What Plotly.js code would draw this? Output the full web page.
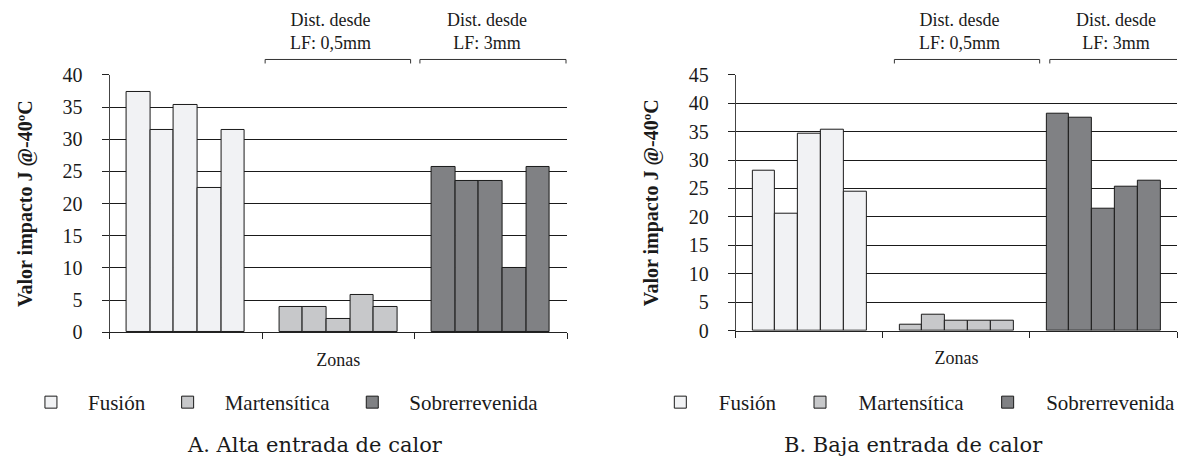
<!DOCTYPE html>
<html>
<head>
<meta charset="utf-8">
<script src="https://cdn.plot.ly/plotly-3.0.1.min.js"></script>
<style>html,body{margin:0;padding:0;background:#fff;}</style>
</head>
<body>
<div id="chart" style="width:1181px;height:460px"></div>
<script>
// ---- data ----
const zones = ['Fusión', 'Martensítica', 'Sobrerrevenida'];
const altaFusion = [37.4, 31.4, 35.3, 22.5, 31.4];
const altaMartensitica = [3.9, 3.9, 2.0, 5.8, 3.9];
const altaSobrerrevenida = [25.7, 23.5, 23.5, 10.0, 25.7];
const bajaFusion = [28.2, 20.6, 34.6, 35.3, 24.5];
const bajaMartensitica = [1.1, 2.9, 1.8, 1.8, 1.8];
const bajaSobrerrevenida = [38.2, 37.5, 21.4, 25.3, 26.4];
const distLabels = ['Dist. desde<br>LF: 0,5mm', 'Dist. desde<br>LF: 3mm'];
const yTitle = 'Valor impacto J @-40ºC';
const xTitle = 'Zonas';
const captions = ['A. Alta entrada de calor', 'B. Baja entrada de calor'];

// ---- styles ----
const SERIF = 'Liberation Serif, serif';
const CAPTION_FONT = 'DejaVu Serif, serif';
const colors = ['#f1f2f4', '#c7c8ca', '#808184'];
const BAR_W = 0.155;

function zoneTrace(vals, zi, xa, ya, legendId) {
  return {
    type: 'bar',
    name: zones[zi],
    x: vals.map((v, i) => zi + (i - (vals.length - 1) / 2) * BAR_W),
    y: vals,
    width: BAR_W,
    xaxis: xa, yaxis: ya,
    legend: legendId,
    marker: {color: colors[zi], line: {color: '#1a1a1a', width: 1}},
    hoverinfo: 'y'
  };
}

const traces = [
  zoneTrace(altaFusion, 0, 'x', 'y', 'legend'),
  zoneTrace(altaMartensitica, 1, 'x', 'y', 'legend'),
  zoneTrace(altaSobrerrevenida, 2, 'x', 'y', 'legend'),
  zoneTrace(bajaFusion, 0, 'x2', 'y2', 'legend2'),
  zoneTrace(bajaMartensitica, 1, 'x2', 'y2', 'legend2'),
  zoneTrace(bajaSobrerrevenida, 2, 'x2', 'y2', 'legend2')
];

function xAxis(domain, anchor) {
  return {
    domain: domain, anchor: anchor,
    range: [-0.5, zones.length - 0.5],
    tickvals: [-0.5, 0.5, 1.5, 2.5], ticktext: ['', '', '', ''],
    ticks: 'outside', ticklen: 6, tickcolor: '#222', tickwidth: 1,
    showline: true, linecolor: '#222', linewidth: 1,
    showgrid: false, zeroline: false, fixedrange: true,
    title: {text: xTitle, font: {family: SERIF, size: 18, color: '#1a1a1a'}, standoff: 11}
  };
}
function yAxis(domain, anchor, max) {
  return {
    domain: domain, anchor: anchor,
    range: [0, max], dtick: 5, tick0: 0,
    ticks: 'outside', ticklen: 7, tickcolor: '#222', tickwidth: 1,
    showline: true, linecolor: '#444', linewidth: 1,
    showgrid: true, gridcolor: '#1a1a1a', gridwidth: 1,
    zeroline: false, fixedrange: true,
    tickfont: {family: SERIF, size: 20, color: '#1a1a1a'},
    ticklabelstandoff: 15,
    title: {text: '<b>' + yTitle + '</b>', font: {family: SERIF, size: 20, color: '#1a1a1a'}, standoff: 24}
  };
}

const textFont = {family: SERIF, size: 18, color: '#1a1a1a'};
const captionFont = {family: CAPTION_FONT, size: 21, color: '#1a1a1a'};
const annotations = [
  {xref: 'x', yref: 'paper', x: 1, xshift: -8, y: 0.9315, yanchor: 'middle', text: distLabels[0], showarrow: false, font: textFont, align: 'center'},
  {xref: 'x', yref: 'paper', x: 2, xshift: -4, y: 0.9315, yanchor: 'middle', text: distLabels[1], showarrow: false, font: textFont, align: 'center'},
  {xref: 'x2', yref: 'paper', x: 1, xshift: 3, y: 0.9315, yanchor: 'middle', text: distLabels[0], showarrow: false, font: textFont, align: 'center'},
  {xref: 'x2', yref: 'paper', x: 2, xshift: 13, y: 0.9315, yanchor: 'middle', text: distLabels[1], showarrow: false, font: textFont, align: 'center'},
  {xref: 'paper', yref: 'paper', x: 0.2676, y: 0.0326, xanchor: 'center', yanchor: 'middle', text: captions[0], showarrow: false, font: captionFont},
  {xref: 'paper', yref: 'paper', x: 0.7765, y: 0.0326, xanchor: 'center', yanchor: 'middle', text: captions[1], showarrow: false, font: captionFont}
];

function bracket(xref, x0, x1) {
  const yTop = 0.8707, yBot = 0.8620;
  return {type: 'path', xref: xref, yref: 'paper',
    path: `M ${x0} ${yBot} L ${x0} ${yTop} L ${x1} ${yTop} L ${x1} ${yBot}`,
    line: {color: '#333', width: 1}};
}
const shapes = [
  bracket('x', 0.52, 1.474),
  bracket('x', 1.535, 2.493),
  bracket('x2', 0.578, 1.566),
  bracket('x2', 1.635, 2.6)
];

const legendFont = {family: SERIF, size: 21, color: '#1a1a1a'};
const legendBase = {
  orientation: 'h', yanchor: 'middle', y: 0.125, xanchor: 'left',
  font: legendFont, bgcolor: 'rgba(0,0,0,0)', borderwidth: 0
};

const layout = {
  width: 1181, height: 460,
  margin: {l: 0, r: 0, t: 0, b: 0},
  paper_bgcolor: '#fff', plot_bgcolor: '#fff',
  font: {family: SERIF, color: '#1a1a1a', size: 18},
  showlegend: true,
  bargap: 0,
  xaxis: xAxis([0.0931, 0.4818], 'y'),
  yaxis: yAxis([0.2776, 0.837], 'x', 40),
  xaxis2: xAxis([0.6252, 1.0], 'y2'),
  yaxis2: yAxis([0.281, 0.8376], 'x2', 45),
  legend: Object.assign({}, legendBase, {x: 14 / 1181, itemwidth: 64}),
  legend2: Object.assign({}, legendBase, {x: 644 / 1181, itemwidth: 67}),
  annotations: annotations,
  shapes: shapes
};

Plotly.newPlot('chart', traces, layout, {displayModeBar: false});
</script>
</body>
</html>
